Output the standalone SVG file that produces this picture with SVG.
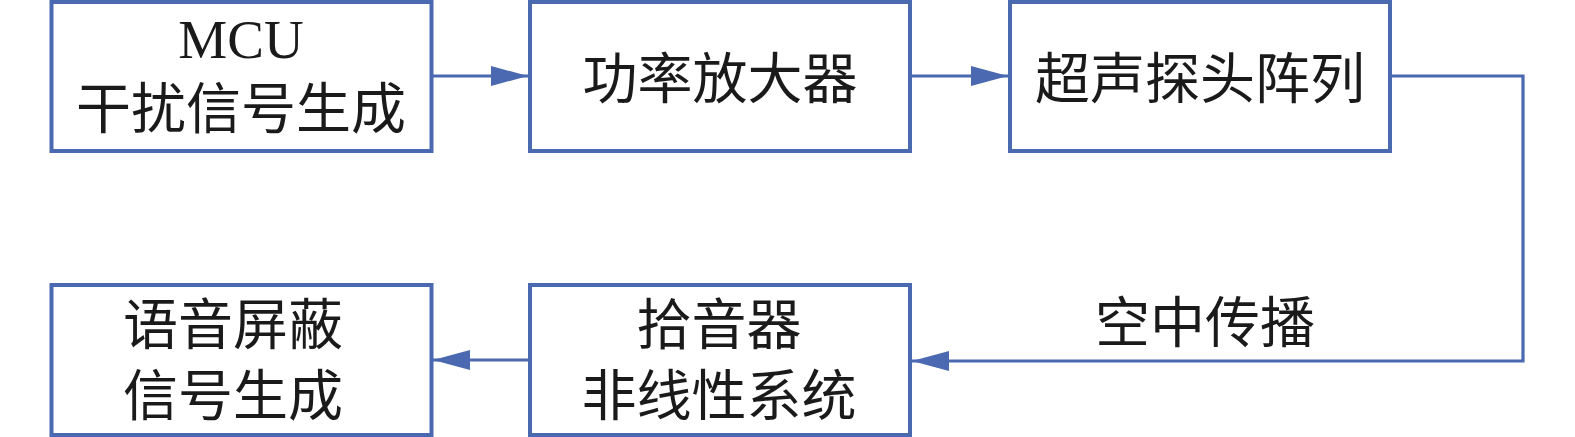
<svg xmlns="http://www.w3.org/2000/svg" width="1575" height="437" viewBox="0 0 1575 437">
  <style>
    .box { fill: #ffffff; stroke: #4a69b0; stroke-width: 4; }
    .conn { fill: none; stroke: #4a69b0; stroke-width: 3.2; }
    .cn { font-family: "Noto Sans CJK SC", "Noto Sans", sans-serif; font-size: 55px; fill: #1a1a1a; text-anchor: middle; }
    .en { font-family: "Liberation Serif", serif; font-size: 55px; fill: #1a1a1a; text-anchor: middle; }
  </style>
  <defs>
    <marker id="arrow" markerUnits="userSpaceOnUse" markerWidth="37" markerHeight="20" refX="37" refY="10" orient="auto">
      <polygon points="0,0 37,10 0,20" fill="#4a69b0"/>
    </marker>
  </defs>
  <rect width="1575" height="437" fill="#ffffff"/>

  <g id="connectors">
    <line class="conn" x1="431" y1="76" x2="528" y2="76" marker-end="url(#arrow)"/>
    <line class="conn" x1="910" y1="76" x2="1008" y2="76" marker-end="url(#arrow)"/>
    <path class="conn" d="M1390,76 H1523 V361 H912" marker-end="url(#arrow)"/>
    <line class="conn" x1="530" y1="360" x2="433" y2="360" marker-end="url(#arrow)"/>
    <text class="cn" x="1205" y="342">空中传播</text>
  </g>

  <g id="node-mcu">
    <rect class="box" x="51.5" y="2" width="380" height="149"/>
    <text class="en" x="241" y="58">MCU</text>
    <text class="cn" x="241" y="128">干扰信号生成</text>
  </g>

  <g id="node-amp">
    <rect class="box" x="530" y="2" width="380" height="149"/>
    <text class="cn" x="720" y="98">功率放大器</text>
  </g>

  <g id="node-probe">
    <rect class="box" x="1010" y="2" width="380" height="149"/>
    <text class="cn" x="1200" y="98">超声探头阵列</text>
  </g>

  <g id="node-mask">
    <rect class="box" x="51.5" y="285" width="380" height="150"/>
    <text class="cn" x="233" y="344">语音屏蔽</text>
    <text class="cn" x="233" y="415">信号生成</text>
  </g>

  <g id="node-mic">
    <rect class="box" x="530" y="285" width="380" height="150"/>
    <text class="cn" x="719" y="344">拾音器</text>
    <text class="cn" x="719" y="415">非线性系统</text>
  </g>
</svg>
